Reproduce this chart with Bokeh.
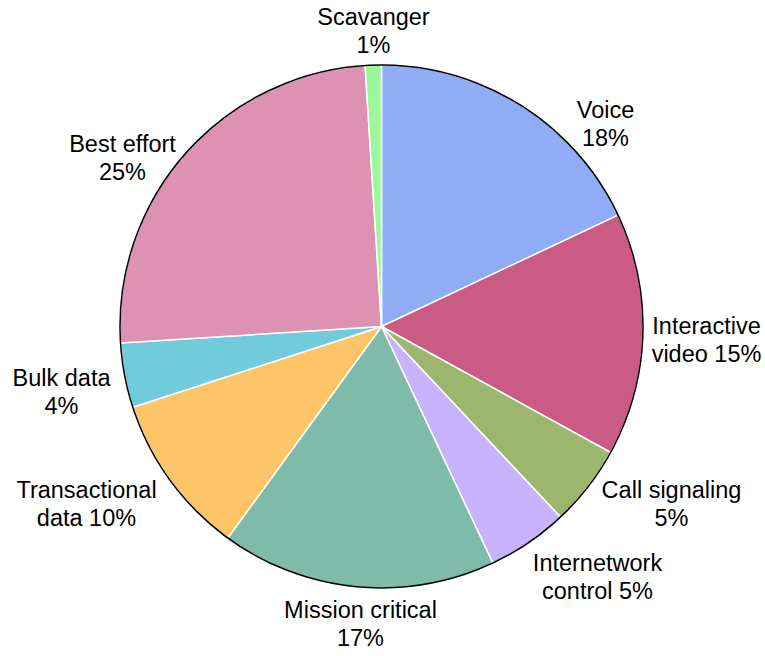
import math
from bokeh.plotting import figure
from bokeh.models import Range1d, ColumnDataSource
from bokeh.core.properties import value
from bokeh.embed import file_html
from bokeh.resources import INLINE

# ---- data ----
categories = ["Voice", "Interactive video", "Call signaling", "Internetwork control",
              "Mission critical", "Transactional data", "Bulk data", "Best effort", "Scavanger"]
shares = [18, 15, 5, 5, 17, 10, 4, 25, 1]
label_templates = ["Voice\n{}%", "Interactive\nvideo {}%", "Call signaling\n{}%",
                   "Internetwork\ncontrol {}%", "Mission critical\n{}%",
                   "Transactional\ndata {}%", "Bulk data\n{}%", "Best effort\n{}%",
                   "Scavanger\n{}%"]
colors = ["#91acf7", "#c95b84", "#9db66e", "#c7b2fb", "#7fbba9",
          "#fdc468", "#72cbda", "#dd92b4", "#9cf79a"]

# ---- layout (screen pixel coordinates of label line-1 baseline centers) ----
label_pos = [(605, 117.5), (706, 333.5), (671, 498), (597, 571),
             (360, 618), (86, 498), (61, 385.5), (122, 152), (373, 25)]
TEXT_SHIFT = -8.5
LINE_GAP = 28
CX, CY, R = 381, 326, 261.5

W, H = 765, 656
p = figure(width=W, height=H, output_backend="svg", toolbar_location=None,
           x_range=Range1d(0, W), y_range=Range1d(-H, 0),
           x_axis_type=None, y_axis_type=None, min_border=0,
           outline_line_color=None, background_fill_color="white")
p.grid.visible = False

total = float(sum(shares))
starts, ends = [], []
cum = 0.0
for s in shares:
    a0 = math.pi / 2 - 2 * math.pi * cum / total
    cum += s
    a1 = math.pi / 2 - 2 * math.pi * cum / total
    starts.append(a1)
    ends.append(a0)

src = ColumnDataSource(dict(start=starts, end=ends, color=colors, cat=categories))
p.wedge(x=CX, y=-CY, radius=R, start_angle="start", end_angle="end",
        direction="anticlock", fill_color="color", line_color="white",
        line_width=1.5, source=src)
p.arc(x=CX, y=-CY, radius=R, start_angle=0, end_angle=2 * math.pi,
      line_color="black", line_width=1.5)

tx, ty, tt = [], [], []
for tmpl, s, (lx, ly) in zip(label_templates, shares, label_pos):
    lines = tmpl.format(s).split("\n")
    for i, ln in enumerate(lines):
        tx.append(lx)
        ty.append(-(ly + TEXT_SHIFT + i * LINE_GAP))
        tt.append(ln)

p.text(x=tx, y=ty, text=tt, text_align="center", text_baseline="alphabetic",
       text_font=value("Liberation Sans"), text_font_size="23.5px",
       text_color="black")

open("out.html", "w").write(file_html(p, INLINE))
